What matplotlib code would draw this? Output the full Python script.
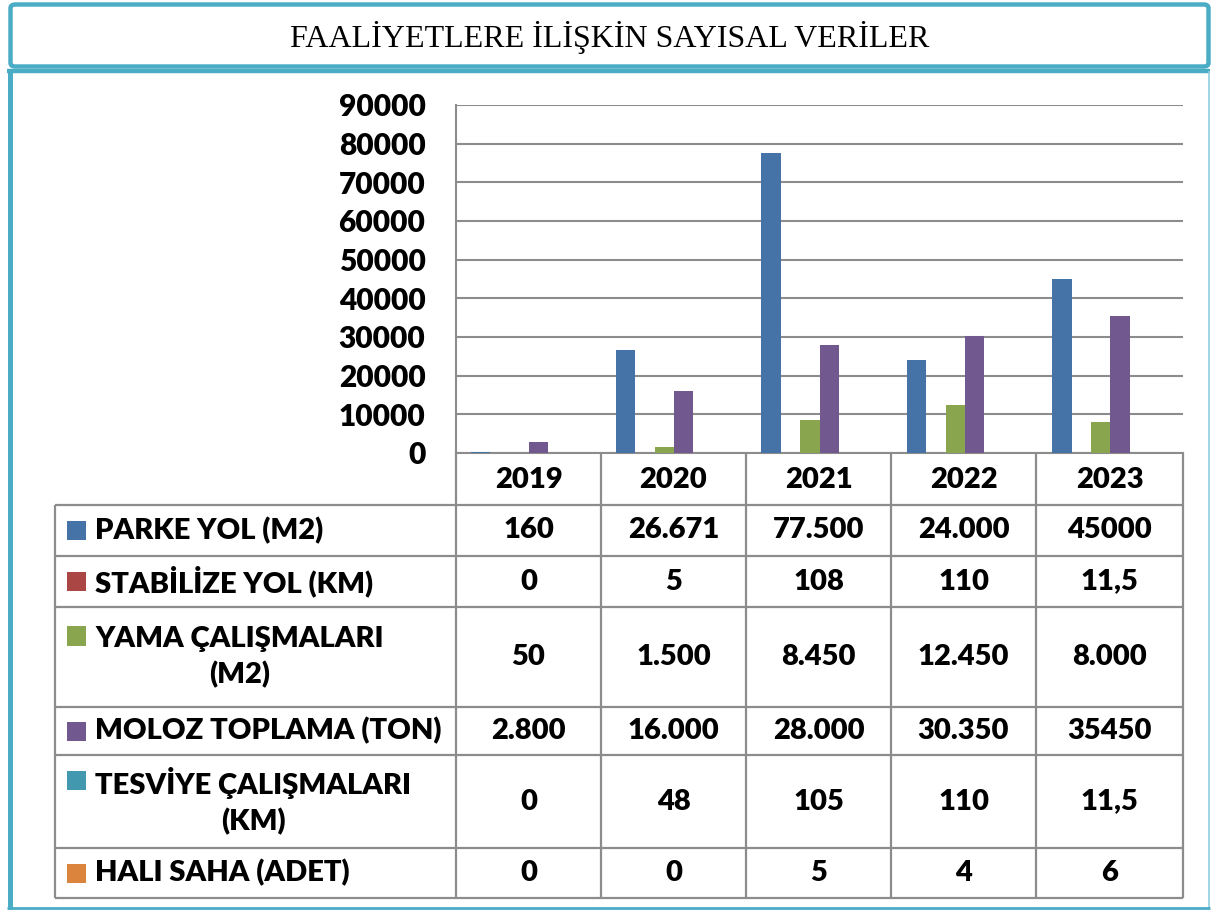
import matplotlib
matplotlib.use("Agg")
import matplotlib.pyplot as plt
from matplotlib.patches import FancyBboxPatch, Rectangle
from matplotlib.lines import Line2D
import numpy as np

# ---------------- data ----------------
years = ["2019", "2020", "2021", "2022", "2023"]
series_names = ["PARKE YOL (M2)", "STABİLİZE YOL (KM)", "YAMA ÇALIŞMALARI\n(M2)",
                "MOLOZ TOPLAMA (TON)", "TESVİYE ÇALIŞMALARI\n(KM)", "HALI SAHA (ADET)"]
parke = [160, 26671, 77500, 24000, 45000]
stabilize = [0, 5, 108, 110, 11.5]
yama = [50, 1500, 8450, 12450, 8000]
moloz = [2800, 16000, 28000, 30350, 35450]
tesviye = [0, 48, 105, 110, 11.5]
hali_saha = [0, 0, 5, 4, 6]
table_text = [
    ["160", "26.671", "77.500", "24.000", "45000"],
    ["0", "5", "108", "110", "11,5"],
    ["50", "1.500", "8.450", "12.450", "8.000"],
    ["2.800", "16.000", "28.000", "30.350", "35450"],
    ["0", "48", "105", "110", "11,5"],
    ["0", "0", "5", "4", "6"],
]
y_ticks = [0, 10000, 20000, 30000, 40000, 50000, 60000, 70000, 80000, 90000]
title = "FAALİYETLERE İLİŞKİN SAYISAL VERİLER"

colors = ["#4572A7", "#AA4643", "#89A54E", "#71588F", "#4198AF", "#DB843D"]
teal = "#4BACC6"
grid_c = "#8C8C8C"

W, H = 1211, 911
fig = plt.figure(figsize=(W / 100, H / 100), dpi=100)
fig.patch.set_facecolor("white")

def fx(x):
    return x / W

def fy(y):
    return 1 - y / H

FONT = "Lato"
WGT = 800

# ---------------- frames ----------------
title_box = FancyBboxPatch((fx(10.5), fy(66.5)), fx(1208.5) - fx(10.5), fy(4.5) - fy(66.5),
                           boxstyle="round,pad=0,rounding_size=0.004",
                           transform=fig.transFigure, fill=False, edgecolor=teal, lw=3.2)
fig.add_artist(title_box)
fig.text(fx(610), fy(38), title, family="Liberation Serif", fontsize=23,
         ha="center", va="center", color="black")

def fline(x0, y0, x1, y1, color, lw):
    fig.add_artist(Line2D([fx(x0), fx(x1)], [fy(y0), fy(y1)], transform=fig.transFigure,
                          color=color, lw=lw, solid_capstyle="butt"))

fline(7, 71, 1210, 71, teal, 3.2)
fline(9.5, 69, 9.5, 909, teal, 3.6)
fline(1209, 71, 1209, 909, "#8FD0E0", 1.2)
fline(7, 907.5, 1210, 907.5, teal, 2.0)

# ---------------- bar chart ----------------
L, R, T, B = 456, 1183, 105, 453
ax = fig.add_axes([fx(L), fy(B), fx(R) - fx(L), fy(T) - fy(B)])
all_series = [parke, stabilize, yama, moloz, tesviye, hali_saha]
n = len(all_series)
bw = 1 / (n + 1.5)
x = np.arange(len(years))
for i, (vals, c) in enumerate(zip(all_series, colors)):
    offs = -0.5 + 0.75 * bw + bw * i + bw / 2
    ax.bar(x + offs, vals, width=bw, color=c, zorder=3, linewidth=0)
ax.set_xlim(-0.5, len(years) - 0.5)
ax.set_ylim(0, 90000)
ax.set_yticks(y_ticks)
ax.set_yticklabels([str(v) for v in y_ticks], family=FONT, fontweight=WGT, fontsize=21.5)
ax.tick_params(axis="y", length=0, pad=22)
ax.set_xticks([])
ax.grid(axis="y", color=grid_c, lw=1.5, zorder=0)
for s in ["top", "right"]:
    ax.spines[s].set_visible(False)
ax.spines["left"].set_color(grid_c)
ax.spines["left"].set_linewidth(1.5)
ax.spines["bottom"].set_color(grid_c)
ax.spines["bottom"].set_linewidth(1.5)

# ---------------- data table ----------------
col_x = [456, 601, 746, 891, 1036, 1183]
row_y = [505, 556, 607, 707, 755, 848, 898]
tl = 55
tlw = 1.6
for cx in col_x:
    fline(cx, 453, cx, 898, grid_c, tlw)
fline(tl, 505, tl, 898, grid_c, tlw)
for ry in row_y:
    fline(tl, ry, 1183, ry, grid_c, tlw)

fs = 21
for j, yr in enumerate(years):
    fig.text(fx((col_x[j] + col_x[j + 1]) / 2), fy(480), yr, family=FONT,
             fontweight=WGT, fontsize=fs, ha="center", va="center")

for i, name in enumerate(series_names):
    yc = (row_y[i] + row_y[i + 1]) / 2
    two = "\n" in name
    fig.text(fx(95), fy(yc), name, family=FONT, fontweight=WGT, fontsize=fs,
             ha="left", va="center", multialignment="center", linespacing=1.4)
    ky = yc - 21 if two else yc
    fig.add_artist(Rectangle((fx(67), fy(ky + 9.5)), fx(86) - fx(67), fy(ky - 9.5) - fy(ky + 9.5),
                             transform=fig.transFigure, facecolor=colors[i], edgecolor="none"))
    for j in range(len(years)):
        fig.text(fx((col_x[j] + col_x[j + 1]) / 2), fy(yc), table_text[i][j], family=FONT,
                 fontweight=WGT, fontsize=fs, ha="center", va="center")

fig.savefig("out.png", dpi=100, facecolor="white")
